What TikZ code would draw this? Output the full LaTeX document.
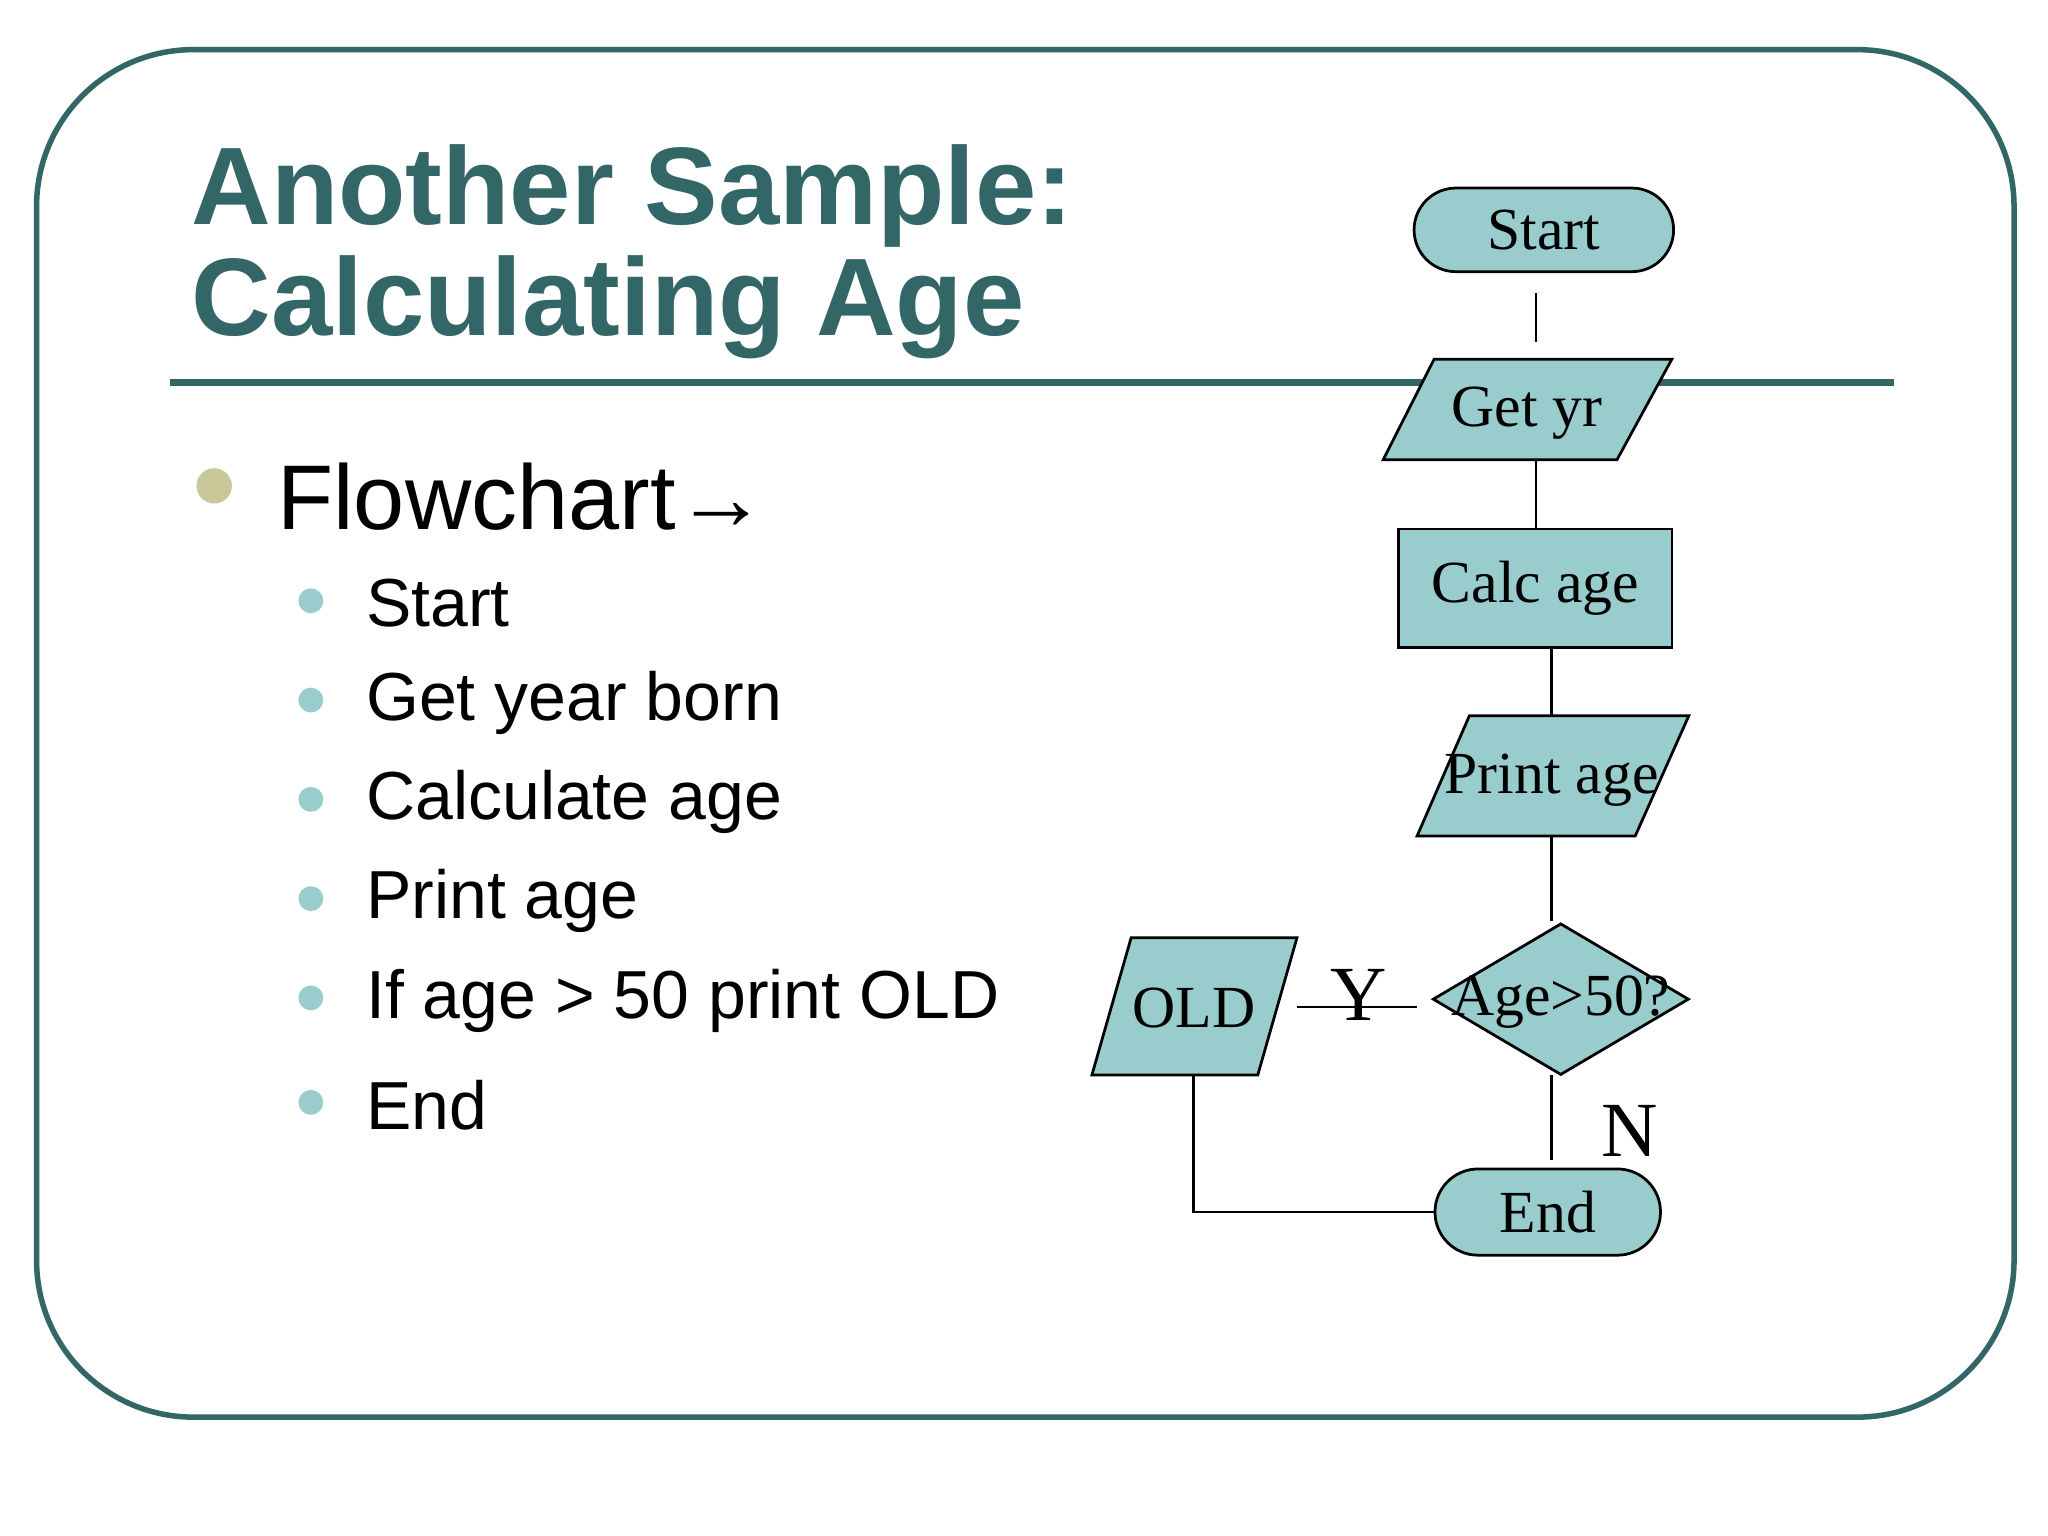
\documentclass[tikz,border=0pt]{standalone}
\usepackage{fontspec}
\setmainfont{Liberation Serif}
\newfontfamily\sansf{Liberation Sans}
\usetikzlibrary{shapes.geometric,shapes.misc}
\definecolor{teal1}{HTML}{336666}
\definecolor{boxfill}{HTML}{99CCCC}
\definecolor{olive1}{HTML}{C8C898}
\tikzset{
  fc/.style={draw=black,fill=boxfill,line width=0.6pt},
  fctext/.style={font=\fontsize{13}{15}\selectfont},
  conn/.style={draw=black,line width=0.6pt},
  sub/.style={anchor=west,font=\sansf\fontsize{14.8}{17}\selectfont},
  subdot/.style={circle,fill=boxfill,inner sep=0pt,minimum size=0.19cm}
}
\begin{document}
\begin{tikzpicture}[x=0.01cm,y=-0.01cm]
\useasboundingbox (0,0) rectangle (1568,1176);
\fill[white] (0,0) rectangle (1568,1176);
\draw[teal1,line width=1.2pt,rounded corners=1.2cm] (28,38) rectangle (1542,1085);
\node[anchor=base west,inner sep=0,text=teal1,font=\sansf\bfseries\fontsize{24}{28}\selectfont] (t1) at (146,172) {Another Sample:};
\node[anchor=base west,inner sep=0,text=teal1,font=\sansf\bfseries\fontsize{24}{28}\selectfont] (t2) at (146,257) {Calculating Age};
\draw[teal1,line width=1.5pt] (130,293) -- (1450,293);
% bullets
\node[circle,fill=olive1,inner sep=0pt,minimum size=0.27cm] (b0) at (164,372) {};
\node[anchor=west,font=\sansf\fontsize{20}{24}\selectfont] (l0) at (200,380) {Flowchart→};
\foreach \y/\t [count=\i] in {462/Start,538/Get year born,614/Calculate age,690/Print age,766/If age > 50 print OLD,846/End}{
  \node[subdot] (d\i) at (238,\y-2) {};
  \node[sub] (s\i) at (268,\y) {\t};
}
% flowchart
\node[fc,fctext,rounded rectangle,minimum width=2.22cm,minimum height=0.64cm] (start) at (1182,176) {Start};
\coordinate (gy1) at (1059,352); \coordinate (gy2) at (1098,275); \coordinate (gy3) at (1280,275); \coordinate (gy4) at (1238,352);
\draw[fc] (gy1)--(gy2)--(gy3)--(gy4)--cycle;
\node[fctext] (getyr) at (1169,316) {Get yr};
\node[fc,fctext,minimum width=2.09cm,minimum height=0.91cm,inner sep=0] (calc) at (1175.5,450.5) {Calc age};
\coordinate (pa1) at (1085,640); \coordinate (pa2) at (1125,548); \coordinate (pa3) at (1293,548); \coordinate (pa4) at (1252,640);
\draw[fc] (pa1)--(pa2)--(pa3)--(pa4)--cycle;
\node[fctext] (print) at (1188,597) {Print age};
\node[fc,diamond,aspect=1.7,minimum width=1.96cm,minimum height=1.16cm,inner sep=0] (dec) at (1195,765) {};
\node[fctext] (dect) at (1195,767) {Age>50?};
\coordinate (o1) at (836,823); \coordinate (o2) at (866,718); \coordinate (o3) at (993,718); \coordinate (o4) at (963,823);
\draw[fc] (o1)--(o2)--(o3)--(o4)--cycle;
\node[fctext] (old) at (914,772) {OLD};
\node[fc,fctext,rounded rectangle,minimum width=1.96cm,minimum height=0.66cm] (end) at (1185,928) {End};
% connectors
\coordinate (c1) at (1176,224); \coordinate (c2) at (1176,262);
\draw[conn] (c1)--(c2);
\coordinate (c3) at (1176,352); \coordinate (c4) at (1176,405);
\draw[conn] (c3)--(c4);
\coordinate (c5) at (1188,496); \coordinate (c6) at (1188,548);
\draw[conn] (c5)--(c6);
\coordinate (c7) at (1188,640); \coordinate (c8) at (1188,705);
\draw[conn] (c7)--(c8);
\coordinate (c9) at (993,771); \coordinate (c10) at (1085,771);
\draw[conn] (c9)--(c10);
\node[font=\fontsize{17}{20}\selectfont] (ylab) at (1040,762) {Y};
\coordinate (c11) at (1188,823); \coordinate (c12) at (1188,888);
\draw[conn] (c11)--(c12);
\node[font=\fontsize{17}{20}\selectfont] (nlab) at (1248,866) {N};
\coordinate (c13) at (914,823);
\draw[conn] (c13)|-(end.west);
\end{tikzpicture}
\end{document}
